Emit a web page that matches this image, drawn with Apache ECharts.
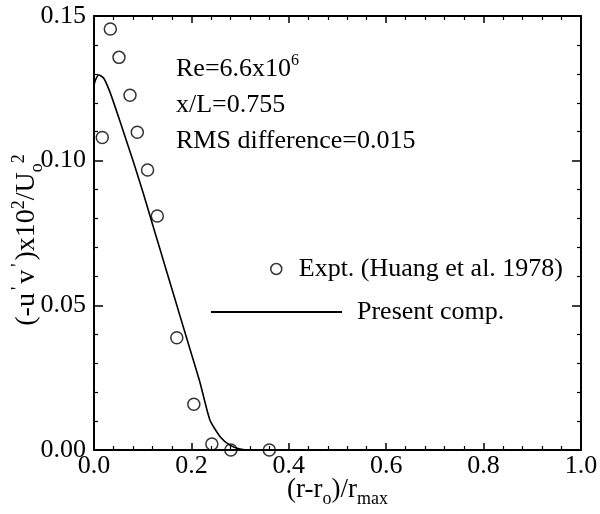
<!DOCTYPE html>
<html>
<head>
<meta charset="utf-8">
<script src="https://cdn.jsdelivr.net/npm/echarts@6/dist/echarts.min.js"></script>
<style>html,body{margin:0;padding:0;background:#fff}#c{width:600px;height:514px}</style>
</head>
<body>
<div id="c"></div>
<script>
// Experimental data (Huang et al. 1978)
var exptX = [0.017, 0.0335, 0.0513, 0.0739, 0.0889, 0.110, 0.130, 0.170, 0.205, 0.242, 0.281, 0.360];
var exptY = [0.108, 0.1455, 0.1357, 0.1226, 0.1098, 0.0968, 0.0809, 0.0388, 0.0158, 0.0021, 0.0000, 0.0000];
// Present computation
var compX = [0, 0.003, 0.010, 0.020, 0.033, 0.053, 0.081, 0.101, 0.120, 0.135, 0.156, 0.177, 0.197, 0.218, 0.238, 0.259, 0.279, 0.300, 0.320, 0.350];
var compY = [0.126, 0.1279, 0.1296, 0.1285, 0.1236, 0.1138, 0.0995, 0.0888, 0.0781, 0.0697, 0.0579, 0.0461, 0.0349, 0.0231, 0.0104, 0.0046, 0.0017, 0.0003, 0, 0];
var xTicks = {min: 0, max: 1, interval: 0.2};
var yTicks = {min: 0, max: 0.15, interval: 0.05};
var seriesNames = ['Expt. (Huang et al. 1978)', 'Present comp.'];

var FONT = 'Liberation Serif';
var chart = echarts.init(document.getElementById('c'), null, {renderer: 'canvas'});

function zip(a, b) { return a.map(function (v, i) { return [v, b[i]]; }); }

var axisLine = {show: true, onZero: false, lineStyle: {color: '#000', width: 2}};
var tickLine = {color: '#000', width: 1.5};
var minorLine = {color: '#000', width: 1.2};

function rich(size, subSize) {
  return {
    n: {fontFamily: FONT, fontSize: size, color: '#000', lineHeight: size + 6},
    sub: {fontFamily: FONT, fontSize: subSize, color: '#000', verticalAlign: 'bottom', padding: [0, 0, -2, 0]},
    sup: {fontFamily: FONT, fontSize: subSize, color: '#000', verticalAlign: 'top'},
    pr: {fontFamily: FONT, fontSize: subSize, color: '#000', verticalAlign: 'top', padding: [0, 3, 0, 3]}
  };
}

var option = {
  animation: false,
  backgroundColor: '#fff',
  grid: {left: 94, right: 19, top: 16, bottom: 64, containLabel: false, outerBoundsMode: 'none'},
  xAxis: [{
    type: 'value', min: xTicks.min, max: xTicks.max, interval: xTicks.interval,
    axisLine: axisLine,
    axisTick: {show: true, inside: true, length: 7, lineStyle: tickLine},
    minorTick: {show: true, splitNumber: 5, length: 4, lineStyle: minorLine},
    splitLine: {show: false},
    axisLabel: {margin: 3, fontFamily: FONT, fontSize: 26, color: '#000',
      formatter: function (v) { return v.toFixed(1); }},
    name: '{n|(r-r}{sub|o}{n|)/r}{sub|max}',
    nameLocation: 'middle', nameGap: 23, nameMoveOverlap: false,
    nameTextStyle: {rich: rich(27, 18)}
  }, {
    type: 'value', position: 'top', min: xTicks.min, max: xTicks.max, interval: xTicks.interval,
    axisLine: axisLine,
    axisTick: {show: true, inside: true, length: 7, lineStyle: tickLine},
    minorTick: {show: true, splitNumber: 5, length: 4, lineStyle: minorLine},
    splitLine: {show: false}, axisLabel: {show: false}
  }],
  yAxis: [{
    type: 'value', min: yTicks.min, max: yTicks.max, interval: yTicks.interval,
    axisLine: axisLine,
    axisTick: {show: true, inside: true, length: 9, lineStyle: tickLine},
    minorTick: {show: true, splitNumber: 5, length: 4, lineStyle: minorLine},
    splitLine: {show: false},
    axisLabel: {margin: 8, fontFamily: FONT, fontSize: 26, color: '#000',
      formatter: function (v) { return v.toFixed(2); }},
    name: "{n|(-u}{pr|'}{n|v}{pr|'}{n|)x10}{sup|2}{n|/U}{sub|o}{sup|2}",
    nameLocation: 'middle', nameGap: 50, nameMoveOverlap: false,
    nameTextStyle: {rich: rich(28, 18), padding: [0, 14, 0, 0]}
  }, {
    type: 'value', position: 'right', min: yTicks.min, max: yTicks.max, interval: yTicks.interval,
    axisLine: axisLine,
    axisTick: {show: true, inside: true, length: 9, lineStyle: tickLine},
    minorTick: {show: true, splitNumber: 5, length: 4, lineStyle: minorLine},
    splitLine: {show: false}, axisLabel: {show: false}
  }],
  legend: [{
    data: [seriesNames[0]], left: 270, top: 256, padding: 0,
    itemWidth: 11, itemHeight: 11, icon: 'circle',
    itemStyle: {color: 'transparent', borderColor: '#000', borderWidth: 1.5},
    textStyle: {fontFamily: FONT, fontSize: 26, color: '#000', padding: [0, 0, 0, 12]}
  }, {
    data: [seriesNames[1]], left: 211, top: 299, padding: 0,
    itemWidth: 131, itemHeight: 2, icon: 'rect',
    itemStyle: {color: '#000', borderWidth: 0},
    textStyle: {fontFamily: FONT, fontSize: 26, color: '#000', padding: [0, 0, 0, 10]}
  }],
  graphic: [{
    type: 'text', left: 176, top: 53,
    style: {text: '{n|Re=6.6x10}{sup|6}', rich: rich(26, 16)}
  }, {
    type: 'text', left: 176, top: 92,
    style: {text: 'x/L=0.755', fontFamily: FONT, fontSize: 26, fill: '#000'}
  }, {
    type: 'text', left: 176, top: 128,
    style: {text: 'RMS difference=0.015', fontFamily: FONT, fontSize: 26, fill: '#000'}
  }],
  series: [{
    name: seriesNames[0], type: 'scatter', data: zip(exptX, exptY),
    symbol: 'circle', symbolSize: 12,
    itemStyle: {color: 'transparent', borderColor: '#000', borderWidth: 1.5},
    xAxisIndex: 0, yAxisIndex: 0, z: 3
  }, {
    name: seriesNames[1], type: 'line', data: zip(compX, compY),
    symbol: 'none', smooth: 0.2,
    lineStyle: {color: '#000', width: 1.6},
    itemStyle: {color: '#000'},
    xAxisIndex: 0, yAxisIndex: 0, z: 2
  }]
};
chart.setOption(option);
</script>
</body>
</html>
